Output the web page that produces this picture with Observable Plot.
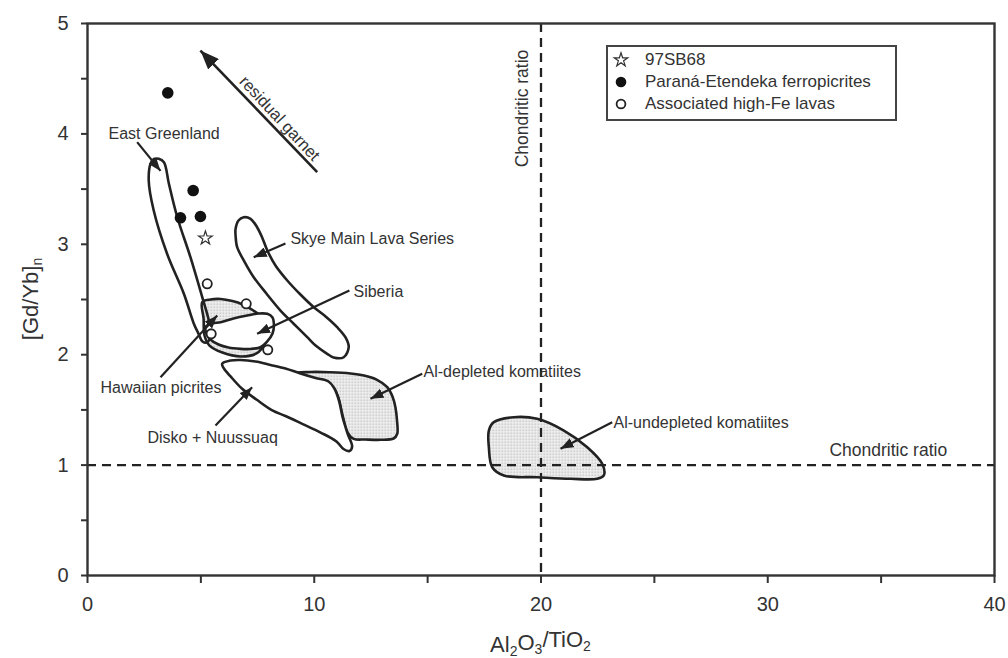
<!DOCTYPE html>
<html><head><meta charset="utf-8">
<script src="https://cdn.jsdelivr.net/npm/d3@7"></script>
<script src="https://cdn.jsdelivr.net/npm/@observablehq/plot@0.6"></script>
<style>
body{margin:0;background:#fff;font-family:"Liberation Sans",Arial,sans-serif}
#wrap{position:relative;width:1008px;height:658px}
#legend{position:absolute;left:606px;top:45px;width:287px;height:72px;border:2px solid #444;background:#fff;font-size:17px;color:#333;box-sizing:content-box}
.row{position:absolute;left:0;height:22px;width:280px}
.row svg{position:absolute;left:4px;top:2px}
.row span{position:absolute;left:37px;top:1px;line-height:20px;white-space:nowrap}
</style></head><body><div id="wrap"></div><script>
// ---------- data ----------
const xTicks = [0, 5, 10, 15, 20, 25, 30, 35, 40];
const yTicks = [0, 0.5, 1, 1.5, 2, 2.5, 3, 3.5, 4, 4.5, 5];

const paranaX = [3.54, 4.66, 4.10, 4.98];
const paranaY = [4.372, 3.487, 3.24, 3.252];
const sampleX = [5.20];
const sampleY = [3.055];
const highFeX = [5.28, 7.0, 5.455, 7.95];
const highFeY = [2.642, 2.461, 2.189, 2.044];

const eastGreenland = [[3.14,3.774],[3.37,3.744],[3.59,3.548],[3.96,3.245],[4.54,2.883],[5.06,2.521],[5.35,2.31],[5.42,2.192],[5.29,2.113],[5.07,2.12],[4.90,2.189],[4.69,2.28],[4.25,2.552],[3.51,2.914],[2.92,3.306],[2.70,3.578],[2.78,3.729],[2.93,3.773]];
const hawaiian = [[5.06,2.476],[5.42,2.5],[5.87,2.505],[6.39,2.486],[6.84,2.455],[7.28,2.405],[7.72,2.337],[7.98,2.237],[7.85,2.111],[7.45,2.011],[6.75,1.984],[5.95,2.02],[5.38,2.083],[5.16,2.174],[5.12,2.328]];
const siberia = [[5.20,2.249],[5.51,2.283],[5.87,2.294],[6.44,2.328],[7.04,2.355],[7.54,2.373],[7.93,2.37],[8.16,2.337],[8.22,2.283],[8.16,2.192],[7.89,2.111],[7.63,2.068],[7.19,2.052],[6.75,2.053],[6.22,2.065],[5.78,2.092],[5.42,2.138],[5.25,2.192]];
const skye = [[6.89,3.245],[7.19,3.231],[7.48,3.155],[7.72,3.053],[7.93,2.944],[8.29,2.808],[8.81,2.672],[9.39,2.545],[9.98,2.43],[10.50,2.346],[11.01,2.249],[11.38,2.156],[11.52,2.068],[11.30,1.977],[10.85,1.975],[10.57,2.008],[10.06,2.083],[9.69,2.159],[9.08,2.283],[8.51,2.4],[7.89,2.554],[7.33,2.702],[6.92,2.844],[6.60,2.974],[6.53,3.08],[6.53,3.14],[6.66,3.216]];
const disko = [[5.94,1.918],[6.31,1.947],[6.75,1.952],[7.41,1.938],[8.07,1.907],[8.73,1.875],[9.39,1.83],[10.06,1.789],[10.63,1.757],[10.89,1.694],[11.09,1.585],[11.25,1.434],[11.47,1.286],[11.67,1.168],[11.55,1.128],[11.29,1.146],[10.98,1.214],[10.28,1.295],[9.47,1.374],[8.73,1.445],[8.15,1.495],[7.45,1.594],[6.82,1.691],[6.31,1.803],[6.00,1.88]];
const alDepleted = [[9.10,1.827],[9.83,1.843],[10.72,1.841],[11.60,1.83],[12.19,1.812],[12.75,1.775],[13.22,1.706],[13.45,1.621],[13.58,1.524],[13.65,1.404],[13.66,1.284],[13.50,1.241],[12.92,1.229],[12.26,1.232],[11.74,1.238],[11.47,1.295],[11.25,1.449],[11.03,1.63],[10.72,1.73],[10.06,1.775],[9.39,1.784]];
const alUndepleted = [[17.92,1.389],[18.80,1.434],[19.83,1.419],[21.01,1.313],[22.04,1.162],[22.70,1.012],[22.77,0.906],[22.48,0.876],[21.30,0.876],[19.83,0.89],[18.36,0.906],[17.85,0.981],[17.70,1.162],[17.70,1.313]];

const labelNames = ["East Greenland","Skye Main Lava Series","Siberia","Hawaiian picrites","Disko + Nuussuaq","Al-depleted komatiites","Al-undepleted komatiites","Chondritic ratio"];
const labelX = [0.926, 8.95, 11.73, 0.573, 2.646, 14.82, 23.2, 32.72];
const labelY = [4.004, 3.05, 2.566, 1.703, 1.25, 1.848, 1.386, 1.132];

const arrowX1 = [2.19, 8.73, 11.55, 3.22, 5.645, 14.76, 23.14];
const arrowY1 = [3.925, 3.007, 2.582, 1.796, 1.359, 1.827, 1.389];
const arrowX2 = [3.22, 7.33, 7.48, 5.72, 7.26, 12.48, 20.86];
const arrowY2 = [3.665, 2.883, 2.189, 2.355, 1.706, 1.60, 1.148];

const garnet = {x1: 10.13, y1: 3.653, x2: 4.98, y2: 4.755, text: "residual garnet", tx: 8.47, ty: 4.14};
const chondriticX = 20;
const chondriticY = 1;
const chondriticLabel = {text: "Chondritic ratio", x: 19.17, y: 4.23};

const legendItems = ["97SB68", "Paraná-Etendeka ferropicrites", "Associated high-Fe lavas"];

// ---------- build ----------
const pts = (xs, ys) => xs.map((x, i) => ({x, y: ys[i]}));
const poly = arr => arr.map(([x, y]) => ({x, y}));
const labels = labelNames.map((t, i) => ({t, x: labelX[i], y: labelY[i]}));
const arrows = arrowX1.map((x1, i) => ({x1, y1: arrowY1[i], x2: arrowX2[i], y2: arrowY2[i]}));

function headMarker(len, half) {
  return (color) => {
    const m = d3.create("svg:marker")
      .attr("viewBox", `${-len} ${-half} ${len} ${2*half}`)
      .attr("markerWidth", len).attr("markerHeight", 2*half)
      .attr("markerUnits", "userSpaceOnUse")
      .attr("orient", "auto").attr("refX", 0).attr("refY", 0)
      .attr("fill", "#222").attr("stroke", "none");
    m.append("path").attr("d", `M${-len},${-half}L0,0L${-len},${half}Z`);
    return m.node();
  };
}

const LINE = "#222";
const shape = (arr, fill) => Plot.line(poly(arr), {x: "x", y: "y", curve: "catmull-rom-closed", stroke: LINE, strokeWidth: 2.6, fill});

const svg = Plot.plot({
  width: 1008, height: 658,
  marginLeft: 87, marginRight: 14, marginTop: 23, marginBottom: 83,
  style: {fontFamily: '"Liberation Sans", Arial, sans-serif', fontSize: "20px", color: "#333", background: "#fff"},
  x: {domain: [0, 40]},
  y: {domain: [0, 5]},
  marks: [
    Plot.axisX({ticks: xTicks, tickSize: 8, tickPadding: 13, strokeWidth: 2, tickFormat: d => d % 10 === 0 ? d : "", label: null, fontSize: 20}),
    Plot.axisY({ticks: yTicks, tickSize: 6, tickPadding: 13, strokeWidth: 2, tickFormat: d => d % 1 === 0 ? d : "", label: null, fontSize: 20}),
    shape(alDepleted, "url(#dots)"),
    shape(disko, "white"),
    shape(hawaiian, "url(#dots)"),
    shape(eastGreenland, "none"),
    shape(siberia, "white"),
    shape(skye, "none"),
    shape(alUndepleted, "url(#dots)"),
    Plot.ruleX([chondriticX], {stroke: LINE, strokeWidth: 2.3, strokeDasharray: "9,6"}),
    Plot.ruleY([chondriticY], {stroke: LINE, strokeWidth: 2.3, strokeDasharray: "9,6"}),
    Plot.frame({stroke: "#333", strokeWidth: 2.4}),
    Plot.link(arrows, {x1: "x1", y1: "y1", x2: "x2", y2: "y2", stroke: LINE, strokeWidth: 2.2, markerEnd: headMarker(13, 5)}),
    Plot.link([garnet], {x1: "x1", y1: "y1", x2: "x2", y2: "y2", stroke: LINE, strokeWidth: 2.6, markerEnd: headMarker(19, 7.5)}),
    Plot.text([garnet], {x: "tx", y: "ty", text: "text", rotate: 47, fontSize: 16.5, fill: "#333"}),
    Plot.text([chondriticLabel], {x: "x", y: "y", text: "text", rotate: -90, fontSize: 17.5, fill: "#333"}),
    Plot.text(labels, {x: "x", y: "y", text: "t", textAnchor: "start", fontSize: d => d.t === "Chondritic ratio" ? 17.5 : 16, fill: "#333"}),
    Plot.dot(pts(paranaX, paranaY), {x: "x", y: "y", r: 5.8, fill: "#111", stroke: "none"}),
    Plot.dot(pts(highFeX, highFeY), {x: "x", y: "y", r: 4.6, fill: "white", stroke: "#222", strokeWidth: 1.8}),
    Plot.dot(pts(sampleX, sampleY), {x: "x", y: "y", r: 4.3, symbol: "star", fill: "white", stroke: "#333", strokeWidth: 1.2})
  ]
});

// pattern for shaded fields
const s = d3.select(svg);
const defs = s.insert("defs", ":first-child");
const pat = defs.append("pattern").attr("id", "dots").attr("width", 3).attr("height", 3).attr("patternUnits", "userSpaceOnUse");
pat.append("rect").attr("width", 3).attr("height", 3).attr("fill", "#f2f2f2");
pat.append("rect").attr("width", 1.5).attr("height", 1.5).attr("fill", "#b8b8b8");

// axis titles with subscripts
const xr = [87, 994];
const xt = s.append("text").attr("x", (xr[0] + xr[1]) / 2).attr("y", 652).attr("text-anchor", "middle").attr("font-size", 22).attr("fill", "#333");
xt.append("tspan").text("Al");
xt.append("tspan").attr("dy", "0.3em").attr("font-size", 14).text("2");
xt.append("tspan").attr("dy", "-0.3em").text("O");
xt.append("tspan").attr("dy", "0.3em").attr("font-size", 14).text("3");
xt.append("tspan").attr("dy", "-0.3em").text("/TiO");
xt.append("tspan").attr("dy", "0.3em").attr("font-size", 14).text("2");
const yt = s.append("text").attr("transform", "translate(38,299) rotate(-90)").attr("text-anchor", "middle").attr("font-size", 22).attr("fill", "#333");
yt.append("tspan").text("[Gd/Yb]");
yt.append("tspan").attr("dy", "0.3em").attr("font-size", 14).text("n");

const wrap = document.getElementById("wrap");
wrap.appendChild(svg);

// legend
const legend = document.createElement("div");
legend.id = "legend";
const star = d3.symbol(d3.symbolStar, Math.PI * 4.3 * 4.3)();
const symbols = [
  `<path d="${star}" transform="translate(9,9)" fill="white" stroke="#333" stroke-width="1.2"/>`,
  `<circle cx="9" cy="9" r="5.3" fill="#111"/>`,
  `<circle cx="9" cy="9" r="4.4" fill="white" stroke="#222" stroke-width="1.8"/>`
];
legendItems.forEach((t, i) => {
  const row = document.createElement("div");
  row.className = "row";
  row.style.top = (2 + i * 22) + "px";
  row.innerHTML = `<svg width="18" height="18">${symbols[i]}</svg><span>${t}</span>`;
  legend.appendChild(row);
});
wrap.appendChild(legend);
</script></body></html>
